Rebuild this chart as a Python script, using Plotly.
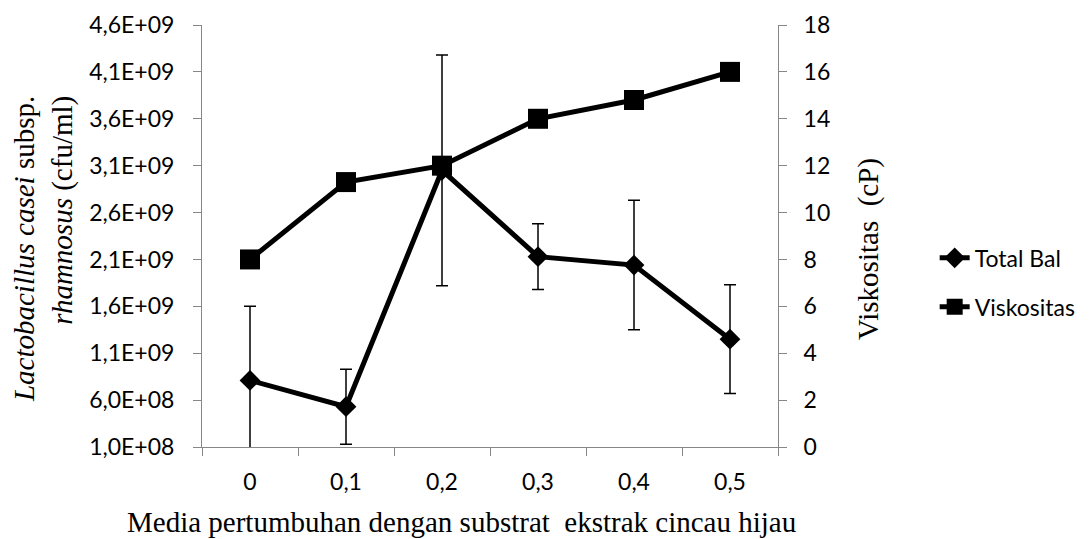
import plotly.graph_objects as go

categories = ["0", "0,1", "0,2", "0,3", "0,4", "0,5"]
total_bal = [8.1e8, 5.3e8, 3.05e9, 2.13e9, 2.04e9, 1.25e9]
total_bal_err = [7.9e8, 4.0e8, 1.23e9, 3.5e8, 6.9e8, 5.8e8]
viskositas = [8.0, 11.3, 12.0, 14.0, 14.8, 16.0]

left_tickvals = [1.0e8, 6.0e8, 1.1e9, 1.6e9, 2.1e9, 2.6e9, 3.1e9, 3.6e9, 4.1e9, 4.6e9]
left_ticktext = ["1,0E+08", "6,0E+08", "1,1E+09", "1,6E+09", "2,1E+09",
                 "2,6E+09", "3,1E+09", "3,6E+09", "4,1E+09", "4,6E+09"]
right_tickvals = [0, 2, 4, 6, 8, 10, 12, 14, 16, 18]

x_title = "Media pertumbuhan dengan substrat  ekstrak cincau hijau"
y_title = "<i>Lactobacillus casei</i> subsp.<br><i>rhamnosus</i> (cfu/ml)"
y2_title = "Viskositas  (cP)"

tick_font = dict(family="Lato, 'Open Sans', sans-serif", size=23, color="black")
title_font = dict(family="'Liberation Serif', 'Times New Roman', serif", size=29, color="black")
axis_gray = "#878787"

fig = go.Figure()
fig.add_trace(go.Scatter(
    x=categories, y=total_bal, name="Total Bal", mode="lines+markers",
    line=dict(color="black", width=5),
    marker=dict(symbol="diamond", size=16, color="black"),
    error_y=dict(type="data", array=total_bal_err, visible=True,
                 color="black", thickness=1.5, width=6),
    legendgroup="a", yaxis="y",
))
fig.add_trace(go.Scatter(
    x=categories, y=viskositas, name="Viskositas", mode="lines+markers",
    line=dict(color="black", width=5),
    marker=dict(symbol="square", size=20, color="black"),
    legendgroup="b", yaxis="y2",
))

fig.update_layout(
    width=1089, height=539,
    margin=dict(l=194, r=319, t=17, b=100, autoexpand=False),
    paper_bgcolor="white", plot_bgcolor="white",
    showlegend=True,
    legend=dict(x=1.272, xanchor="left", y=0.39, yanchor="middle",
                font=tick_font, tracegroupgap=16, traceorder="grouped",
                bgcolor="rgba(0,0,0,0)"),
    xaxis=dict(
        type="category", range=[-0.5, 5.5], tickson="boundaries",
        showline=True, linecolor=axis_gray, linewidth=1,
        ticks="outside", ticklen=8, tickcolor=axis_gray,
        tickfont=tick_font, showgrid=False, zeroline=False,
        ticklabelstandoff=14, automargin=False,
    ),
    yaxis=dict(
        range=[1.0e8, 4.6e9], tickvals=left_tickvals, ticktext=left_ticktext,
        showline=True, linecolor=axis_gray, linewidth=1,
        ticks="outside", ticklen=8, tickcolor=axis_gray,
        tickfont=tick_font, showgrid=False, zeroline=False,
        ticklabelstandoff=14, automargin=False,
    ),
    yaxis2=dict(
        range=[0, 18], tickvals=right_tickvals, overlaying="y", side="right",
        showline=True, linecolor=axis_gray, linewidth=1,
        ticks="outside", ticklen=8, tickcolor=axis_gray,
        tickfont=tick_font, showgrid=False, zeroline=False,
        ticklabelstandoff=12, automargin=False,
    ),
    annotations=[
        dict(text=x_title, xref="paper", yref="paper", x=0.4497, y=-0.178,
             xanchor="center", yanchor="middle", showarrow=False, font=title_font),
        dict(text=y_title, xref="paper", yref="paper", x=-0.276, y=0.469,
             xanchor="center", yanchor="middle", showarrow=False, font=title_font,
             textangle=-90, align="right"),
        dict(text=y2_title, xref="paper", yref="paper", x=1.156, y=0.469,
             xanchor="center", yanchor="middle", showarrow=False, font=title_font,
             textangle=-90),
    ],
)

fig.write_html("out.html")
